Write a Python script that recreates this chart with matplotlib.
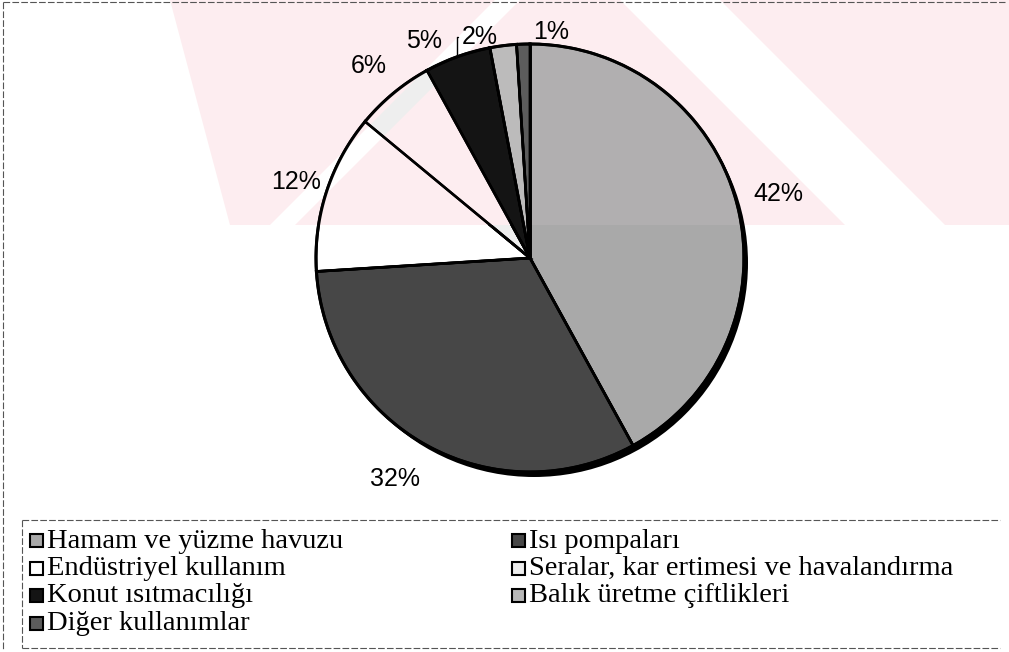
import numpy as np
import matplotlib
matplotlib.use("Agg")
import matplotlib.pyplot as plt
from matplotlib.patches import Circle, Rectangle, Polygon
from matplotlib.lines import Line2D

# Data
labels = ["Hamam ve yüzme havuzu", "Isı pompaları", "Endüstriyel kullanım",
          "Seralar, kar ertimesi ve havalandırma", "Konut ısıtmacılığı",
          "Balık üretme çiftlikleri", "Diğer kullanımlar"]
shares = [42, 32, 12, 6, 5, 2, 1]
colors = ["#a9a9a9", "#474747", "#ffffff", "#eeeeee", "#141414",
          "#b7b7b7", "#5c5c5c"]

W, H = 1009, 652
cx, cy, R = 530, 258, 214          # pie centre / radius in pixels

fig = plt.figure(figsize=(W / 100, H / 100), dpi=100)
fig.patch.set_facecolor("white")


def px(x, y):
    # pixel (from top-left) -> figure fraction
    return x / W, 1 - y / H


# Pale pink watermark band behind the chart
pink = "#fdedf0"
band = [(170, 0), (W, 0), (W, 225), (230, 225)]
stripes = [[(495, 0), (520, 0), (295, 225), (270, 225)],
           [(620, 0), (720, 0), (945, 225), (845, 225)]]
fig.patches.append(Polygon([px(*p) for p in band], closed=True,
                           transform=fig.transFigure, fc=pink, ec="none",
                           zorder=-2))
for s in stripes:
    fig.patches.append(Polygon([px(*p) for p in s], closed=True,
                               transform=fig.transFigure, fc="white",
                               ec="none", zorder=-1))

ax = fig.add_axes([0, 0, 1, 1])
ax.set_zorder(1)
ax.patch.set_alpha(0)

# shadow
ax.add_patch(Circle((4 / R, -5 / R), 1.0, fc="black", ec="none", zorder=1))

wedges, _ = ax.pie(shares, colors=colors, startangle=90, counterclock=False,
                   radius=1.0, center=(0, 0), frame=True,
                   wedgeprops=dict(edgecolor="black", linewidth=2))
for w in wedges:
    w.set_zorder(2)
ax.set_xlim(-cx / R, (W - cx) / R)
ax.set_ylim(-(H - cy) / R, cy / R)
ax.set_aspect("auto")
ax.axis("off")

# pink tint on the light wedges where the watermark crosses them
for w, a in zip(wedges, [0.1, 0, 1.0, 1.0, 0, 0.08, 0]):
    if a == 0:
        continue
    tint = Polygon([px(*p) for p in band], closed=True,
                   transform=fig.transFigure, fc=pink, ec="none",
                   alpha=a, zorder=3)
    ax.add_patch(tint)
    tint.set_clip_path(w)
    for s in stripes:
        st = Polygon([px(*p) for p in s], closed=True,
                     transform=fig.transFigure, fc=w.get_facecolor(),
                     ec="none", zorder=3)
        ax.add_patch(st)
        st.set_clip_path(w)

# redraw the outlines on top
for w in wedges:
    th1, th2 = w.theta1, w.theta2
    t = np.radians(np.linspace(th1, th2, 60))
    ax.plot(np.cos(t), np.sin(t), color="black", lw=2.2, zorder=4)
    for th in (th1, th2):
        ax.plot([0, np.cos(np.radians(th))], [0, np.sin(np.radians(th))],
                color="black", lw=1.8, zorder=4)

# percentage labels
label_r = [1.20, 1.21, 1.15, 1.17, 1.13, 1.06, 1.06]
label_dang = [0, -2.7, 0, 0.4, 6.2, 5.5, -7.1]
for i, w in enumerate(wedges):
    mid = np.radians((w.theta1 + w.theta2) / 2 + label_dang[i])
    pos = (label_r[i] * np.cos(mid), label_r[i] * np.sin(mid))
    txt = "%d%%" % shares[i]
    if shares[i] == 2:
        edge = np.radians(110)
        ax.annotate(txt, xy=(np.cos(edge), np.sin(edge)), xytext=pos,
                    ha="center", va="center", fontsize=18,
                    family="Liberation Sans", zorder=5,
                    arrowprops=dict(arrowstyle="-", lw=1, color="black",
                                    shrinkA=1, shrinkB=0,
                                    connectionstyle="angle,angleA=0,angleB=90"))
    else:
        ax.text(pos[0], pos[1], txt, ha="center", va="center", fontsize=18,
                family="Liberation Sans", zorder=5)

# legend box (dashed scan frame)
frame_kw = dict(color="#555555", lw=0.8, ls=(0, (6, 2)),
                transform=fig.transFigure)
for (x0, y0), (x1, y1) in [((22, 520), (1000, 520)), ((22, 520), (22, 648)),
                           ((22, 648), (1000, 648)), ((3, 2), (1005, 2)),
                           ((3, 2), (3, 650))]:
    a, b = px(x0, y0), px(x1, y1)
    fig.lines.append(Line2D([a[0], b[0]], [a[1], b[1]], **frame_kw))

# legend entries, two columns filled row-wise
col_x = [30, 512]
row_y0, row_dy = 541, 27.5
for i, (lab, c) in enumerate(zip(labels, colors)):
    r, k = divmod(i, 2)
    x, y = col_x[k], row_y0 + r * row_dy
    x0, y0 = px(x, y + 6)
    fig.patches.append(Rectangle((x0, y0), 13 / W, 13 / H, fc=c, ec="black",
                                 lw=1.5, transform=fig.transFigure, zorder=5))
    tx, ty = px(x + 17, y)
    fig.text(tx, ty, lab, ha="left", va="center", fontsize=20.5,
             family="Liberation Serif")

fig.savefig("out.png", dpi=100)
